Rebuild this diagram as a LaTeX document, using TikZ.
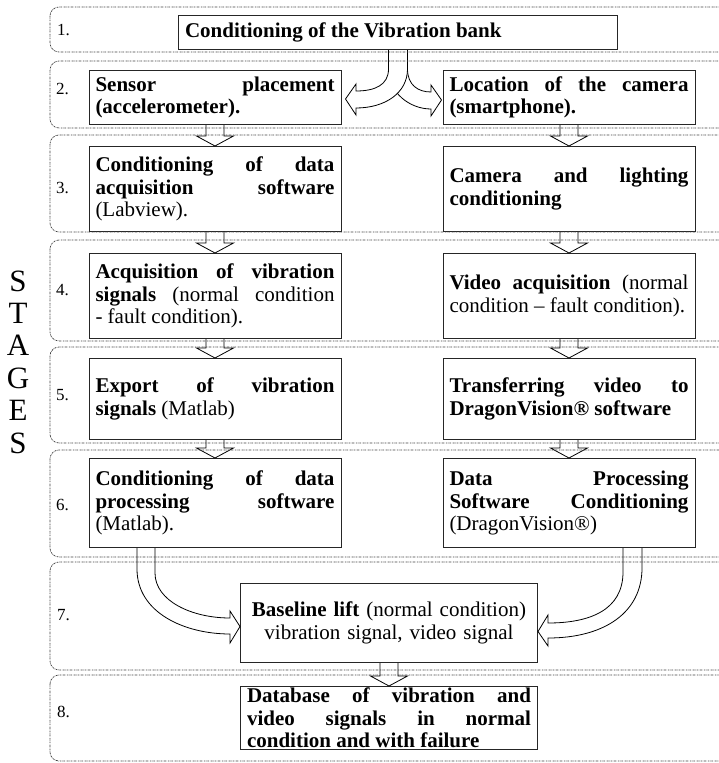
\documentclass[tikz,border=0pt]{standalone}
\usepackage{fontspec}
\setmainfont{Liberation Serif}
\begin{document}
\begin{tikzpicture}[x=1pt,y=-1pt,
  band/.style={draw=black!75, line width=0.75pt,
    dash pattern=on 1.6pt off 0.8pt on 0.4pt off 0.8pt, rounded corners=9pt},
  stepbox/.style={draw=black!85, line width=1pt, fill=white, text width=#1,
    align=justify, inner xsep=6.5pt, inner ysep=0pt, anchor=north,
    font=\fontsize{21}{22.5}\selectfont},
  blk/.style={draw=black, line width=0.8pt, fill=white, line join=miter},
  stagenum/.style={anchor=west, inner sep=0pt, font=\fontsize{17}{17}\selectfont},
]
\useasboundingbox (0,0) rectangle (719,763);
\clip (0,0) rectangle (719,763);

% down block arrow between two stacked boxes
\newcommand\flowdown[2]{%
  \draw[blk] ([xshift=-9pt]#1.south) -- ([xshift=-9pt,yshift=10pt]#2.north)
    -- ([xshift=-18.5pt,yshift=10pt]#2.north) -- (#2.north)
    -- ([xshift=18.5pt,yshift=10pt]#2.north) -- ([xshift=9pt,yshift=10pt]#2.north)
    -- ([xshift=9pt]#1.south);}

% ---- boxes ----
\node[stepbox=426pt, minimum height=34pt] (b1) at (398,15)
  {\textbf{Conditioning of the Vibration bank}};

\node[stepbox=239pt, minimum height=54pt] (b2l) at (215,70)
  {\textbf{Sensor placement\linebreak (accelerometer).}};
\node[stepbox=239pt, minimum height=54pt] (b2r) at (569,70)
  {\textbf{Location of the camera\linebreak (smartphone).}};

\node[stepbox=239pt, minimum height=85pt] (b3l) at (215,146)
  {\textbf{Conditioning of data\linebreak acquisition software}\linebreak (Labview).};
\node[stepbox=239pt, minimum height=85pt] (b3r) at (569,146)
  {\textbf{Camera and lighting\linebreak conditioning}};

\node[stepbox=239pt, minimum height=85pt] (b4l) at (215,253)
  {\textbf{Acquisition of vibration\linebreak signals} (normal condition\linebreak - fault condition).};
\node[stepbox=239pt, minimum height=85pt] (b4r) at (569,253)
  {\parfillskip=0pt \textbf{Video acquisition} (normal\linebreak condition -- fault condition).};

\node[stepbox=239pt, minimum height=81pt] (b5l) at (215,358)
  {\textbf{Export of vibration\linebreak signals} (Matlab)};
\node[stepbox=239pt, minimum height=81pt] (b5r) at (569,358)
  {\parfillskip=0pt \textbf{Transferring video to\linebreak DragonVision® software}};

\node[stepbox=239pt, minimum height=89pt] (b6l) at (215,458)
  {\textbf{Conditioning of data\linebreak processing software}\linebreak (Matlab).};
\node[stepbox=239pt, minimum height=89pt] (b6r) at (569,458)
  {\textbf{Data Processing\linebreak Software Conditioning}\linebreak (DragonVision®)};

\node[stepbox=284pt, minimum height=79pt, align=center] (b7) at (389,583)
  {\textbf{Baseline lift} (normal condition)\\ vibration signal, video signal};

\node[stepbox=284pt, minimum height=63pt] (b8) at (389,686)
  {\textbf{Database of vibration and\linebreak video signals in normal\linebreak condition and with failure}};

% ---- straight block arrows ----
\flowdown{b2l}{b3l}
\flowdown{b2r}{b3r}
\flowdown{b3l}{b4l}
\flowdown{b3r}{b4r}
\flowdown{b4l}{b5l}
\flowdown{b4r}{b5r}
\flowdown{b5l}{b6l}
\flowdown{b5r}{b6r}
\flowdown{b7}{b8}

% ---- forked arrow from stage 1 ----
\draw[blk] ([shift={(9.5,0)}]b1.south) -- ([shift={(9.5,19)}]b1.south)
  .. controls ([shift={(9.5,35)}]b1.south) and ([shift={(20,42)}]b1.south) .. ([shift={(33,42)}]b1.south)
  -- ([shift={(33,35)}]b1.south) -- ([shift={(-1,2.5)}]b2r.west)
  -- ([shift={(33,66)}]b1.south) -- ([shift={(33,59)}]b1.south)
  .. controls ([shift={(12,59)}]b1.south) and ([shift={(-9.5,43)}]b1.south) .. ([shift={(-9.5,19)}]b1.south)
  -- ([shift={(-9.5,0)}]b1.south);
\draw[blk] ([shift={(-9.5,0)}]b1.south) -- ([shift={(-9.5,19)}]b1.south)
  .. controls ([shift={(-9.5,35)}]b1.south) and ([shift={(-23,41)}]b1.south) .. ([shift={(-42,41)}]b1.south)
  -- ([shift={(-42,34)}]b1.south) -- ([shift={(4,1.5)}]b2l.east)
  -- ([shift={(-42,65)}]b1.south) -- ([shift={(-42,58)}]b1.south)
  .. controls ([shift={(-13,58)}]b1.south) and ([shift={(9.5,43)}]b1.south) .. ([shift={(9.5,19)}]b1.south)
  -- ([shift={(9.5,0)}]b1.south);

% ---- curved arrows into stage 7 ----
\draw[blk] ([shift={(-78,0)}]b6l.south) -- ([shift={(-78,21)}]b6l.south)
  .. controls ([shift={(-78,65)}]b6l.south) and ([shift={(-30,86)}]b6l.south) .. ([shift={(15,86)}]b6l.south)
  -- ([shift={(15,95)}]b6l.south) -- ([shift={(0,3.5)}]b7.west)
  -- ([shift={(15,63)}]b6l.south) -- ([shift={(15,70)}]b6l.south)
  .. controls ([shift={(-23,70)}]b6l.south) and ([shift={(-60,53)}]b6l.south) .. ([shift={(-60,25)}]b6l.south)
  -- ([shift={(-60,0)}]b6l.south);
\draw[blk] ([shift={(54,0)}]b6r.south) -- ([shift={(54,24)}]b6r.south)
  .. controls ([shift={(54,62)}]b6r.south) and ([shift={(21,75)}]b6r.south) .. ([shift={(-21,75)}]b6r.south)
  -- ([shift={(-21,67)}]b6r.south) -- ([shift={(0,8.5)}]b7.east)
  -- ([shift={(-21,98)}]b6r.south) -- ([shift={(-21,90)}]b6r.south)
  .. controls ([shift={(36,90)}]b6r.south) and ([shift={(73,64)}]b6r.south) .. ([shift={(73,20)}]b6r.south)
  -- ([shift={(73,0)}]b6r.south);

% ---- stage bands ----
\draw[band] (50,7) rectangle (745,52);
\draw[band] (50,61) rectangle (745,128);
\draw[band] (50,135) rectangle (745,232);
\draw[band] (50,240) rectangle (745,341);
\draw[band] (50,347) rectangle (745,443);
\draw[band] (50,450) rectangle (745,557);
\draw[band] (50,562) rectangle (745,670);
\draw[band] (50,675) rectangle (745,761);

% ---- stage numbers ----
\node[stagenum] (n1) at (57,30) {1.};
\node[stagenum] (n2) at (56,89) {2.};
\node[stagenum] (n3) at (56,188) {3.};
\node[stagenum] (n4) at (56,290) {4.};
\node[stagenum] (n5) at (56,395) {5.};
\node[stagenum] (n6) at (56,505) {6.};
\node[stagenum] (n7) at (57,615) {7.};
\node[stagenum] (n8) at (57,712) {8.};

% ---- vertical title ----
\node[align=center, inner sep=0pt, font=\fontsize{31}{32.4}\selectfont] (stages) at (18,362)
  {S\\T\\A\\G\\E\\S};
\end{tikzpicture}
\end{document}
